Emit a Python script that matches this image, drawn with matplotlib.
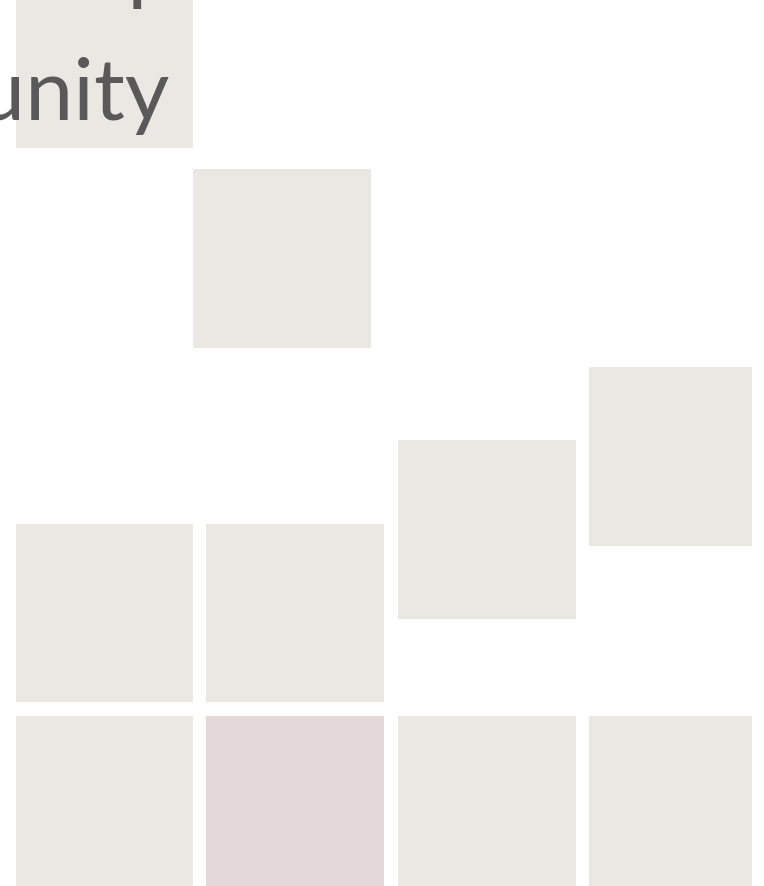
import matplotlib.pyplot as plt
from matplotlib.patches import Rectangle

# tile grid (pixel units, y grows downward)
tile_left = [16, 193, 589, 398, 16, 206, 16, 206, 398, 589]
tile_top = [-29, 169, 367, 440, 524, 524, 716, 716, 716, 716]
tile_width = [177, 178, 163, 178, 177, 178, 177, 178, 178, 163]
tile_height = [177, 179, 179, 179, 178, 178, 178, 178, 178, 178]
tile_kind = ["grey", "grey", "grey", "grey", "grey", "grey", "grey", "accent", "grey", "grey"]

# the heading is cropped by the frame: only "...p" and "...unity" show
title_lines = ["Group", "Community"]
title_right = [176, 170]
title_baseline = [-6, 120]

COLORS = {"grey": "#eae8e3", "accent": "#e5d8d8"}

fig = plt.figure(figsize=(7.64, 8.86), dpi=100)
ax = fig.add_axes([0, 0, 1, 1])
ax.set_xlim(0, 764)
ax.set_ylim(886, 0)
ax.axis("off")

for x, y, w, h, kind in zip(tile_left, tile_top, tile_width, tile_height, tile_kind):
    ax.add_patch(Rectangle((x, y), w, h, facecolor=COLORS[kind], edgecolor="none"))

for text, xr, yb in zip(title_lines, title_right, title_baseline):
    ax.text(xr, yb, text, ha="right", va="baseline", fontsize=62,
            family="Lato", color="#595959")

fig.savefig("out.png", dpi=100)
